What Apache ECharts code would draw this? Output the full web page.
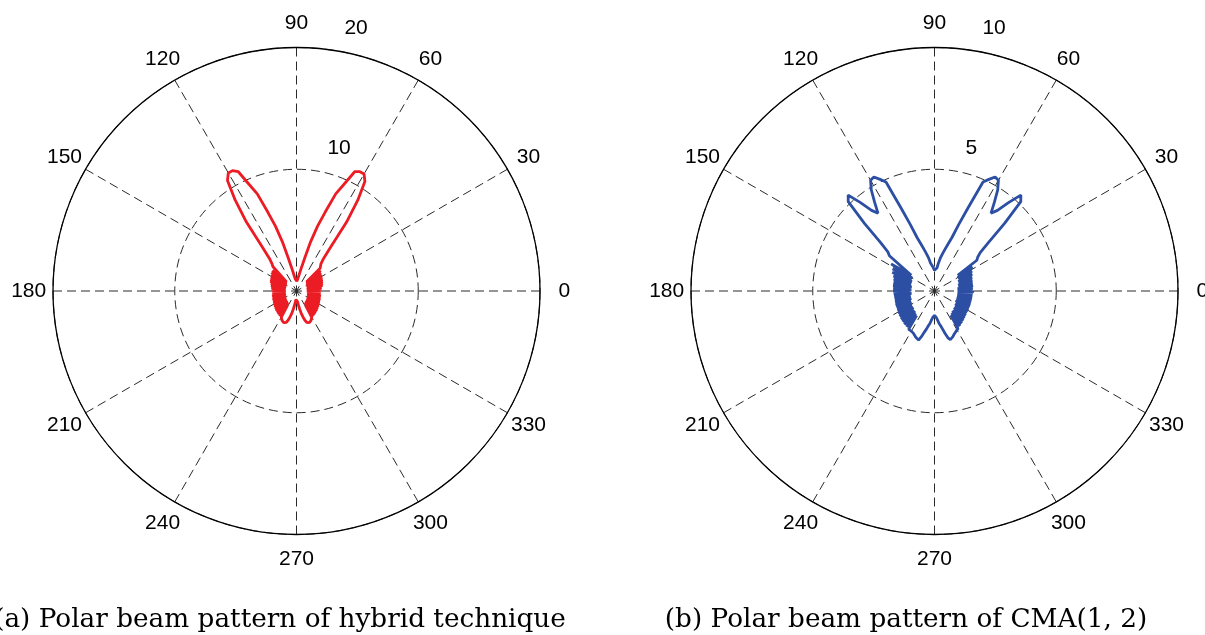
<!DOCTYPE html>
<html>
<head>
<meta charset="utf-8">
<script src="https://cdn.jsdelivr.net/npm/echarts@6/dist/echarts.min.js"></script>
<style>
html,body{margin:0;padding:0;background:#fff;}
#c{width:1205px;height:635px;}
</style>
</head>
<body>
<div id="c"></div>
<script>
// Angles (degrees) at which the beam patterns are sampled
var angles = [0,2,4,6,8,10,12,14,16,18,20,22,24,26,28,30,32,34,36,38,40,42,44,46,48,50,52,54,56,58,60,62,64,66,68,70,72,74,76,78,80,82,84,86,88,90,92,94,96,98,100,102,104,106,108,110,112,114,116,118,120,122,124,126,128,130,132,134,136,138,140,142,144,146,148,150,152,154,156,158,160,162,164,166,168,170,172,174,176,178,180,182,184,186,188,190,192,194,196,198,200,202,204,206,208,210,212,214,216,218,220,222,224,226,228,230,232,234,236,238,240,242,244,246,248,250,252,254,256,258,260,262,264,266,268,270,272,274,276,278,280,282,284,286,288,290,292,294,296,298,300,302,304,306,308,310,312,314,316,318,320,322,324,326,328,330,332,334,336,338,340,342,344,346,348,350,352,354,356,358,360];

// (a) hybrid technique - magnitude
var hybridR = [
2.0,0.85,2.05,0.9,2.1,0.85,2.2,0.9,2.25,0.95,2.3,0.9,2.35,1.0,2.4,0.95,2.45,1.0,2.5,1.05,2.6,1.1,2.7,
2.8,3.0,3.4,4.5,7.0,9.0,10.6,11.1,11.1,10.9,9.6,8.6,6.9,5.6,4.2,2.8,2.0,1.5,1.2,1.0,0.9,0.8,
0.8,
0.8,0.9,1.0,1.2,1.5,2.0,2.8,4.2,5.6,6.9,8.6,9.6,10.9,11.2,11.2,10.7,9.0,7.0,4.5,3.4,3.0,2.8,
2.7,1.1,2.6,1.05,2.55,1.0,2.45,0.95,2.4,1.0,2.35,0.95,2.3,0.9,2.2,0.95,2.15,0.9,2.1,0.9,2.05,0.9,2.0,
0.9,2.0,0.9,2.0,0.95,2.05,0.9,2.05,0.95,2.1,0.95,2.1,1.0,2.15,1.0,2.2,1.05,2.25,1.05,2.3,1.1,2.35,1.1,2.4,1.15,2.45,1.2,2.5,1.4,
2.5,2.6,2.7,2.75,2.8,2.8,2.7,2.5,2.2,1.9,1.5,1.2,0.9,0.7,0.6,0.55,0.6,0.7,0.9,1.2,1.5,1.9,2.2,2.5,2.7,2.8,2.8,2.75,2.7,2.6,2.5,
1.4,2.5,1.2,2.45,1.15,2.4,1.1,2.35,1.1,2.3,1.05,2.25,1.05,2.2,1.0,2.15,1.0,2.1,0.95,2.1,0.95,2.05,0.9,2.05,0.95,2.0,0.9,2.0,0.85,2.0
];

// (b) CMA(1, 2) - magnitude
var cmaR = [
1.57,0.95,1.58,0.95,1.6,1.0,1.6,1.0,1.62,1.05,1.65,1.05,1.7,1.1,1.75,1.1,1.85,1.15,2.15,
2.25,2.45,3.0,4.0,5.1,5.3,4.75,4.2,3.95,4.4,4.9,5.25,5.3,5.1,4.9,3.7,2.9,2.3,2.0,1.75,1.55,1.37,1.15,0.95,1.0,0.9,
0.85,
0.9,1.0,0.95,1.15,1.37,1.55,1.75,2.0,2.3,2.9,3.7,4.9,5.1,5.3,5.25,4.9,4.4,3.95,4.2,4.75,5.3,5.1,4.0,3.0,2.5,2.35,
2.35,1.15,2.1,1.05,1.95,1.05,1.9,1.0,1.8,1.0,1.75,1.0,1.72,0.95,1.72,1.0,1.7,0.95,1.7,
1.0,1.68,0.95,1.67,1.0,1.67,1.0,1.68,1.0,1.7,1.05,1.7,1.05,1.72,1.1,1.75,1.1,1.77,1.1,1.8,1.15,1.82,1.15,1.85,1.2,1.86,1.25,1.9,
1.9,1.9,1.92,1.95,1.98,2.05,2.1,2.12,1.95,1.75,1.6,1.45,1.35,1.2,1.1,1.03,1.0,1.03,1.1,1.2,1.35,1.45,1.6,1.8,2.0,2.1,2.08,2.02,1.96,1.92,1.88,1.85,1.82,
1.2,1.78,1.15,1.74,1.1,1.7,1.1,1.66,1.05,1.63,1.05,1.6,1.0,1.6,1.0,1.58,0.95,1.58,1.0,1.57,0.95,1.57,0.95,1.57,0.95,1.57,0.95,1.57,1.57
];

// Tick labels
var angleTicks = [0,30,60,90,120,150,180,210,240,270,300,330];
var radialTicksA = [10,20];
var radialTicksB = [5,10];
var rMaxA = 20, rMaxB = 10;

var captionA = '(a) Polar beam pattern of hybrid technique';
var captionB = '(b) Polar beam pattern of CMA(1, 2)';

var chart = echarts.init(document.getElementById('c'), null, {renderer:'canvas'});

function pairs(rs){ return angles.map(function(a,i){ return [rs[i], a]; }); }

var dashStyle = {color:'#2a2a2a', width:1, type:[9,5]};
function angleAxis(pi){
  return {polarIndex:pi, type:'value', min:0, max:360, interval:30, startAngle:0, clockwise:false,
    axisLine:{show:true, lineStyle:{color:'#000', width:1.3}},
    axisTick:{show:false}, axisLabel:{show:false},
    splitLine:{show:true, lineStyle:dashStyle}};
}
function radiusAxis(pi, max, step){
  return {polarIndex:pi, type:'value', min:0, max:max, interval:step,
    axisLine:{show:false}, axisTick:{show:false}, axisLabel:{show:false},
    splitLine:{show:true, lineStyle:dashStyle}};
}
var LABEL_FONT = '21px "Liberation Sans", Arial, sans-serif';

chart.setOption({
  animation:false,
  backgroundColor:'#fff',
  polar:[{center:[296.5,291], radius:243.5},{center:[934.5,291], radius:243.5}],
  angleAxis:[angleAxis(0), angleAxis(1)],
  radiusAxis:[radiusAxis(0, rMaxA, 10), radiusAxis(1, rMaxB, 5)],
  series:[
    {type:'line', coordinateSystem:'polar', polarIndex:0, data:pairs(hybridR), symbol:'none', clip:false,
      lineStyle:{color:'#ec1c24', width:2.8}, z:5},
    {type:'line', coordinateSystem:'polar', polarIndex:1, data:pairs(cmaR), symbol:'none', clip:false,
      lineStyle:{color:'#2c4fa3', width:2.8}, z:5}
  ]
});

// Tick labels placed through the polar coordinate systems
var g = [];
function addLabels(seriesIndex, rmax, rticks){
  angleTicks.forEach(function(a){
    var p = chart.convertToPixel({seriesIndex:seriesIndex}, [rmax*1.1, a]);
    g.push({type:'text', x:p[0], y:p[1], z:10, style:{text:String(a), font:LABEL_FONT, fill:'#000', align:'center', verticalAlign:'middle'}});
  });
  rticks.forEach(function(t){
    var p = chart.convertToPixel({seriesIndex:seriesIndex}, [t, 82]);
    g.push({type:'text', x:p[0]+14, y:p[1]-22, z:10, style:{text:String(t), font:LABEL_FONT, fill:'#000', align:'left', verticalAlign:'middle'}});
  });
}
addLabels(0, rMaxA, radialTicksA);
addLabels(1, rMaxB, radialTicksB);
g.push({type:'text', x:280, y:633, style:{text:captionA, font:'26.3px "DejaVu Serif", serif', fill:'#000', align:'center', verticalAlign:'bottom'}});
g.push({type:'text', x:906, y:633, style:{text:captionB, font:'26.3px "DejaVu Serif", serif', fill:'#000', align:'center', verticalAlign:'bottom'}});
chart.setOption({graphic:g});
</script>
</body>
</html>
